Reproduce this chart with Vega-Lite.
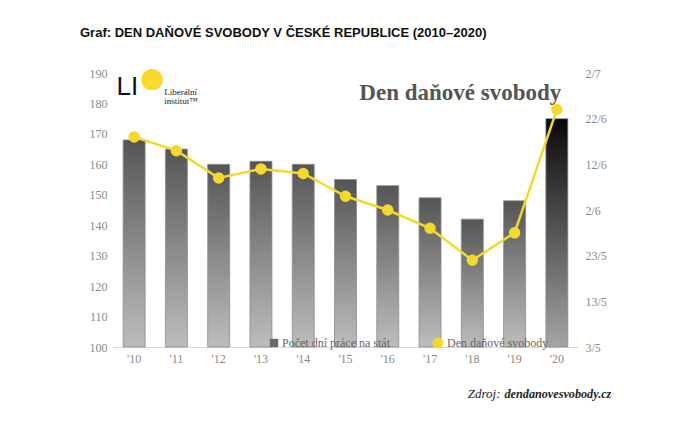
{
  "$schema": "https://vega.github.io/schema/vega-lite/v6.json",
  "width": 465,
  "height": 274,
  "autosize": {"type": "none"},
  "padding": {"left": 113, "top": 73, "right": 104, "bottom": 81},
  "background": "white",
  "config": {"view": {"stroke": null}},
  "title": {
    "text": "Graf: DEN DAŇOVÉ SVOBODY V ČESKÉ REPUBLICE (2010–2020)",
    "anchor": "start",
    "frame": "group",
    "dx": -33,
    "offset": 25,
    "font": "Liberation Sans",
    "fontSize": 13,
    "fontWeight": "bold",
    "color": "#111111"
  },
  "data": {
    "values": [
      {"rok": "'10", "dny": 168, "den": "2010-06-18"},
      {"rok": "'11", "dny": 165, "den": "2011-06-15"},
      {"rok": "'12", "dny": 160, "den": "2012-06-09"},
      {"rok": "'13", "dny": 161, "den": "2013-06-11"},
      {"rok": "'14", "dny": 160, "den": "2014-06-10"},
      {"rok": "'15", "dny": 155, "den": "2015-06-05"},
      {"rok": "'16", "dny": 153, "den": "2016-06-02"},
      {"rok": "'17", "dny": 149, "den": "2017-05-29"},
      {"rok": "'18", "dny": 142, "den": "2018-05-22"},
      {"rok": "'19", "dny": 148, "den": "2019-05-28"},
      {"rok": "'20", "dny": 175, "den": "2020-06-24"}
    ]
  },
  "layer": [
    {
      "layer": [
        {
          "mark": {"type": "bar", "stroke": "#8c8c8c", "strokeWidth": 0.8},
          "encoding": {
            "x": {
              "field": "rok",
              "type": "nominal",
              "scale": {"paddingInner": 0.48, "paddingOuter": 0.24},
              "axis": {
                "labelAngle": 0,
                "domain": true,
                "domainColor": "#d9d9d9",
                "ticks": false,
                "labelFont": "Liberation Serif",
                "labelFontSize": 12,
                "labelColor": "#888888",
                "labelPadding": 6,
                "title": "Zdroj:",
                "titleX": 387,
                "titleY": 50,
                "titleAlign": "right",
                "titleBaseline": "alphabetic",
                "titleFont": "Liberation Serif",
                "titleFontStyle": "italic",
                "titleFontWeight": "normal",
                "titleFontSize": 13,
                "titleColor": "#222222"
              }
            },
            "y": {
              "field": "dny",
              "type": "quantitative",
              "scale": {"domain": [100, 190], "zero": false, "nice": false},
              "axis": {"orient": "left", "values": [100, 110, 120, 130, 140, 150, 160, 170, 180, 190], "labelOverlap": false, "labelBound": false, "domain": false, "ticks": false, "grid": false, "labelFont": "Liberation Serif", "labelFontSize": 12, "labelColor": "#8a8a8a", "labelPadding": 6, "title": null}
            },
            "y2": {"datum": 100},
            "color": {
              "condition": {
                "test": "datum.rok === \"'20\"",
                "value": {"gradient": "linear", "x1": 0, "y1": 0, "x2": 0, "y2": 1, "stops": [{"offset": 0, "color": "#080808"}, {"offset": 1, "color": "#a5a5a5"}]}
              },
              "value": {"gradient": "linear", "x1": 0, "y1": 0, "x2": 0, "y2": 1, "stops": [{"offset": 0, "color": "#555555"}, {"offset": 1, "color": "#bdbdbd"}]}
            }
          }
        },
        {
          "mark": {"type": "point", "shape": "square", "opacity": 0},
          "encoding": {
            "x": {"field": "rok", "type": "nominal"},
            "y": {
              "field": "dny",
              "type": "quantitative",
              "axis": {"orient": "left", "values": [100, 110, 120, 130, 140, 150, 160, 170, 180, 190], "labelOverlap": false, "labelBound": false, "domain": false, "ticks": false, "grid": false, "labelFont": "Liberation Serif", "labelFontSize": 12, "labelColor": "#8a8a8a", "labelPadding": 6, "title": null}
            },
            "fill": {
              "datum": "Počet dní práce na stát",
              "type": "nominal",
              "scale": {"range": ["#6a6a6a"]},
              "legend": {
                "orient": "none",
                "legendX": 155,
                "legendY": 264,
                "title": null,
                "symbolType": "square",
                "symbolSize": 70,
                "symbolOpacity": 1,
                "symbolStrokeWidth": 0,
                "labelFont": "Liberation Serif",
                "labelFontSize": 12,
                "labelColor": "#666666",
                "labelOffset": 2
              }
            }
          }
        },
        {
          "data": {"values": [{}]},
          "mark": {"type": "text", "font": "Liberation Serif", "fontWeight": "bold", "fontSize": 23, "color": "#555555", "baseline": "middle", "align": "center", "dx": -12},
          "encoding": {
            "x": {"datum": "'18", "type": "nominal"},
            "y": {
              "datum": 183.4,
              "type": "quantitative",
              "axis": {"orient": "left", "values": [100, 110, 120, 130, 140, 150, 160, 170, 180, 190], "labelOverlap": false, "labelBound": false, "domain": false, "ticks": false, "grid": false, "labelFont": "Liberation Serif", "labelFontSize": 12, "labelColor": "#8a8a8a", "labelPadding": 6, "title": null}
            },
            "text": {"value": "Den daňové svobody"}
          }
        },
        {
          "data": {"values": [{}]},
          "mark": {"type": "text", "font": "DejaVu Sans", "fontSize": 28, "color": "#FAD92E", "baseline": "middle", "align": "center", "dx": 18},
          "encoding": {
            "x": {"datum": "'10", "type": "nominal"},
            "y": {
              "datum": 188,
              "type": "quantitative",
              "axis": {"orient": "left", "values": [100, 110, 120, 130, 140, 150, 160, 170, 180, 190], "labelOverlap": false, "labelBound": false, "domain": false, "ticks": false, "grid": false, "labelFont": "Liberation Serif", "labelFontSize": 12, "labelColor": "#8a8a8a", "labelPadding": 6, "title": null}
            },
            "text": {"value": "●"}
          }
        },
        {
          "data": {"values": [{}]},
          "mark": {"type": "text", "font": "Liberation Sans", "fontSize": 26, "color": "#111111", "baseline": "middle", "align": "right", "dx": 4},
          "encoding": {
            "x": {"datum": "'10", "type": "nominal"},
            "y": {
              "datum": 185.4,
              "type": "quantitative",
              "axis": {"orient": "left", "values": [100, 110, 120, 130, 140, 150, 160, 170, 180, 190], "labelOverlap": false, "labelBound": false, "domain": false, "ticks": false, "grid": false, "labelFont": "Liberation Serif", "labelFontSize": 12, "labelColor": "#8a8a8a", "labelPadding": 6, "title": null}
            },
            "text": {"value": "LI"}
          }
        },
        {
          "data": {"values": [{}]},
          "mark": {"type": "text", "font": "Liberation Serif", "fontSize": 9, "lineHeight": 9, "color": "#222222", "baseline": "middle", "align": "left", "dx": 30},
          "encoding": {
            "x": {"datum": "'10", "type": "nominal"},
            "y": {
              "datum": 183.8,
              "type": "quantitative",
              "axis": {"orient": "left", "values": [100, 110, 120, 130, 140, 150, 160, 170, 180, 190], "labelOverlap": false, "labelBound": false, "domain": false, "ticks": false, "grid": false, "labelFont": "Liberation Serif", "labelFontSize": 12, "labelColor": "#8a8a8a", "labelPadding": 6, "title": null}
            },
            "text": {"value": ["Liberální", "institut™"]}
          }
        }
      ]
    },
    {
      "mark": {"type": "line", "strokeWidth": 2.5, "point": {"filled": true, "size": 90, "color": "#F3D92F"}},
      "encoding": {
        "x": {"field": "rok", "type": "nominal"},
        "order": {"field": "rok", "type": "nominal", "sort": "ascending"},
        "y": {
          "field": "den",
          "type": "temporal",
          "timeUnit": "utcmonthdate",
          "scale": {"domain": [{"year": 2012, "month": 5, "date": 3, "utc": true}, {"year": 2012, "month": 7, "date": 2, "utc": true}], "nice": false},
          "axis": {
            "orient": "right",
            "values": [
              {"year": 2012, "month": 5, "date": 3, "utc": true},
              {"year": 2012, "month": 5, "date": 13, "utc": true},
              {"year": 2012, "month": 5, "date": 23, "utc": true},
              {"year": 2012, "month": 6, "date": 2, "utc": true},
              {"year": 2012, "month": 6, "date": 12, "utc": true},
              {"year": 2012, "month": 6, "date": 22, "utc": true},
              {"year": 2012, "month": 7, "date": 2, "utc": true}
            ],
            "format": "%-d/%-m",
            "labelOverlap": false,
            "domain": false,
            "ticks": false,
            "grid": false,
            "labelFont": "Liberation Serif",
            "labelFontSize": 12,
            "labelColor": "#8a8a8a",
            "labelPadding": 7,
            "title": "dendanovesvobody.cz",
            "titleAngle": 0,
            "titleX": -74,
            "titleY": 324,
            "titleAlign": "left",
            "titleBaseline": "alphabetic",
            "titleFont": "Liberation Serif",
            "titleFontStyle": "italic",
            "titleFontWeight": "bold",
            "titleFontSize": 12.2,
            "titleColor": "#222222"
          }
        },
        "stroke": {
          "datum": "Den daňové svobody",
          "type": "nominal",
          "scale": {"range": ["#F3D92F"]},
          "legend": {
            "orient": "none",
            "legendX": 319,
            "legendY": 264,
            "title": null,
            "symbolType": "circle",
            "symbolSize": 90,
            "symbolFillColor": "#F3D92F",
            "symbolStrokeColor": "#F3D92F",
            "symbolOpacity": 1,
            "labelFont": "Liberation Serif",
            "labelFontSize": 12,
            "labelColor": "#666666",
            "labelOffset": 3
          }
        }
      }
    }
  ],
  "resolve": {"scale": {"y": "independent", "fill": "independent", "stroke": "independent"}}
}
